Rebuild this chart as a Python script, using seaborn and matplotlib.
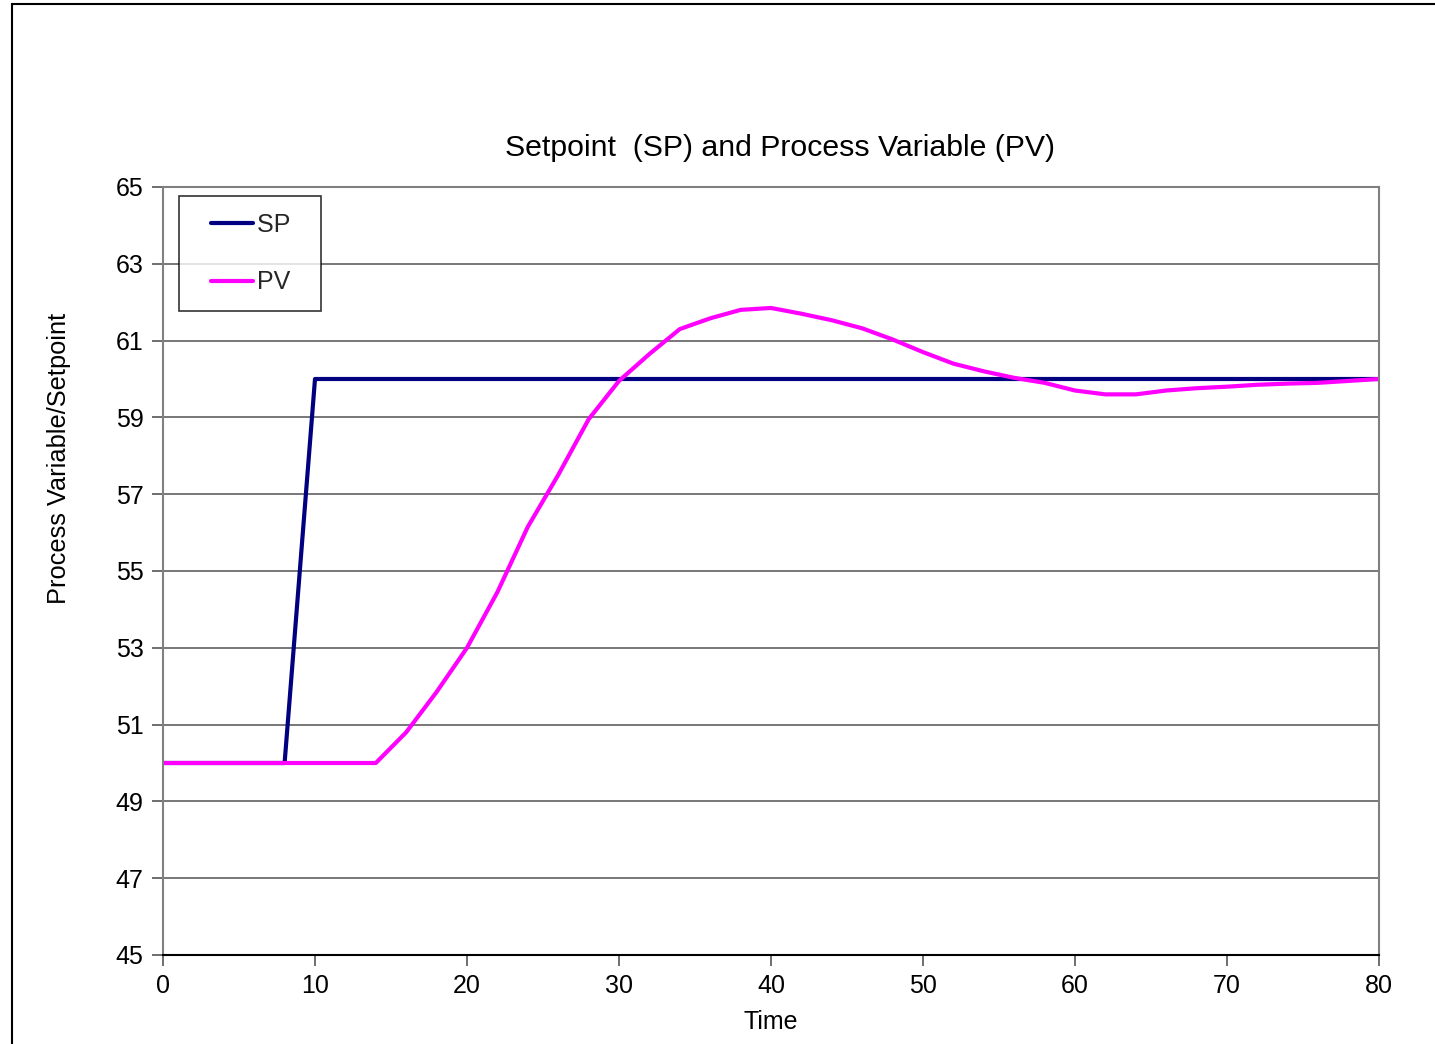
import matplotlib
matplotlib.use("Agg")
import matplotlib.pyplot as plt
import seaborn as sns
import pandas as pd
from matplotlib.patches import Rectangle
from matplotlib.legend_handler import HandlerLine2D

# Time axis (sampled every 2 time units)
time = [0, 2, 4, 6, 8, 10, 12, 14, 16, 18, 20, 22, 24, 26, 28, 30, 32, 34, 36, 38,
        40, 42, 44, 46, 48, 50, 52, 54, 56, 58, 60, 62, 64, 66, 68, 70, 72, 74, 76, 78, 80]

# Setpoint: step from 50 to 60
sp = [50, 50, 50, 50, 50, 60, 60, 60, 60, 60, 60, 60, 60, 60, 60, 60, 60, 60, 60, 60,
      60, 60, 60, 60, 60, 60, 60, 60, 60, 60, 60, 60, 60, 60, 60, 60, 60, 60, 60, 60, 60]

# Process variable response
pv = [50.0, 50.0, 50.0, 50.0, 50.0, 50.0, 50.0, 50.0, 50.8, 51.85, 53.0, 54.45, 56.15,
      57.5, 58.95, 59.95, 60.65, 61.3, 61.58, 61.8, 61.85, 61.7, 61.53, 61.32, 61.03,
      60.7, 60.4, 60.2, 60.03, 59.9, 59.7, 59.6, 59.6, 59.7, 59.76, 59.8, 59.85, 59.88,
      59.9, 59.95, 60.0]

series_names = ["SP", "PV"]
series_colors = {"SP": "#000080", "PV": "#FF00FF"}

df = pd.DataFrame({
    "Time": time * 2,
    "Value": sp + pv,
    "Series": ["SP"] * len(time) + ["PV"] * len(time),
})


class InsetLineHandler(HandlerLine2D):
    """Legend line handle drawn with an extra left inset."""

    def __init__(self, inset, **kw):
        super().__init__(**kw)
        self.inset = inset

    def create_artists(self, legend, orig_handle, xdescent, ydescent, width,
                       height, fontsize, trans):
        return super().create_artists(legend, orig_handle,
                                      xdescent - self.inset * fontsize, ydescent,
                                      width, height, fontsize, trans)


sns.set_theme(style="white")
plt.rcParams["font.family"] = ["Liberation Sans", "DejaVu Sans"]

fig = plt.figure(figsize=(14.35, 10.44), dpi=100)
ax = fig.add_axes([163 / 1435, 89 / 1044, 1216 / 1435, 768 / 1044])

sns.lineplot(data=df, x="Time", y="Value", hue="Series", hue_order=series_names,
             palette=series_colors, linewidth=3.0, ax=ax, legend=False,
             estimator=None, sort=False)

ax.set_xlim(0, 80)
ax.set_ylim(45, 65)
ax.set_xticks(range(0, 81, 10))
ax.set_yticks(range(45, 66, 2))
ax.grid(axis="y", color="#606060", linewidth=1.2)
ax.grid(axis="x", visible=False)
ax.set_axisbelow(True)

for side in ["left", "right", "top"]:
    ax.spines[side].set_color("#808080")
    ax.spines[side].set_linewidth(1.5)
ax.spines["bottom"].set_color("#000000")
ax.spines["bottom"].set_linewidth(1.5)

ax.tick_params(axis="both", direction="out", length=8, width=1.2, color="#555555",
               labelsize=18, labelcolor="#000000", pad=6, bottom=True, left=True)

ax.set_xlabel("Time", fontsize=18, color="#000000", labelpad=8)
ax.set_ylabel("Process Variable/Setpoint", fontsize=18.3, color="#000000")
ax.yaxis.set_label_coords(-0.0755, 0.646)
ax.set_title("Setpoint  (SP) and Process Variable (PV)", fontsize=21.8, color="#000000",
             pad=22, x=0.507)

# Legend built from the drawn lines
handles = ax.get_lines()[:2]
leg = ax.legend(handles, [name + "  " for name in series_names], loc="upper left",
                bbox_to_anchor=(0.013, 0.988),
                fontsize=18, frameon=True, fancybox=False, handlelength=1.7,
                handletextpad=0.78, labelspacing=1.35, borderpad=0.66,
                borderaxespad=0,
                handler_map={h: InsetLineHandler(0.62) for h in handles})
leg.get_frame().set_edgecolor("#000000")
leg.get_frame().set_linewidth(1.2)

# Outer chart frame (left and top edges visible)
fig.add_artist(Rectangle((12 / 1435, -0.1), 1.2, 1.1 - 4 / 1044,
                         transform=fig.transFigure, fill=False,
                         edgecolor="#000000", linewidth=1.5, clip_on=False))

fig.savefig("out.png", dpi=100, facecolor="white")
